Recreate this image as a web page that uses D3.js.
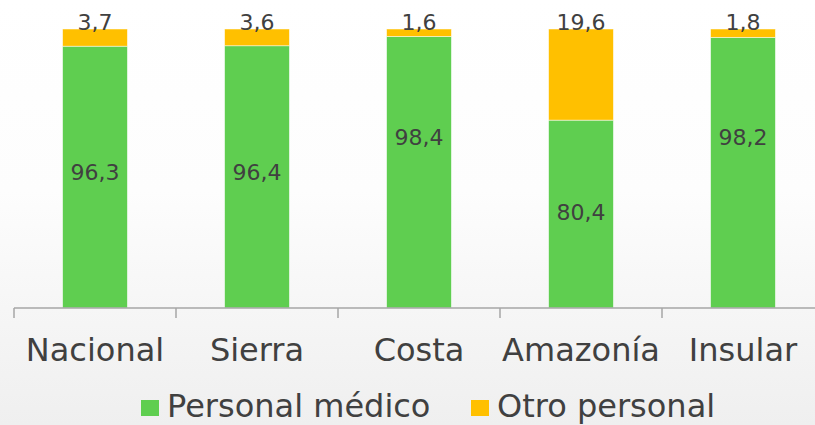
<!DOCTYPE html>
<head>
    <meta charset="utf-8" />
    <title>Personal por region</title>
    <script src="https://d3js.org/d3.v7.min.js"></script>
    <style>
        body { margin: 0; font-family: "DejaVu Sans", sans-serif; }
        svg { display: block; }
    </style>
</head>
<body>
<svg width="815" height="425"></svg>

<script>
    let categories = ["Nacional", "Sierra", "Costa", "Amazonía", "Insular"];
    let medico = [96.3, 96.4, 98.4, 80.4, 98.2];
    let otro = [3.7, 3.6, 1.6, 19.6, 1.8];
    let seriesNames = ["Personal médico", "Otro personal"];
    let seriesColors = ["#5fce50", "#ffc000"];
    // value axis of the original starts at 40, not 0
    let yMin = 40, yMax = 100;
    // where the inner label sits (in % units), hand placed like the original
    let innerLabelAt = [69.2, 69.2, 76.8, 60.6, 76.8];

    let svg = d3.select("svg");
    let width = 815, height = 425;

    // background fade
    let grad = svg.append("defs").append("linearGradient")
        .attr("id", "bg").attr("x1", 0).attr("y1", 0).attr("x2", 0).attr("y2", 1);
    grad.append("stop").attr("offset", "0%").attr("stop-color", "#ffffff");
    grad.append("stop").attr("offset", "45%").attr("stop-color", "#fdfdfd");
    grad.append("stop").attr("offset", "100%").attr("stop-color", "#efefef");
    svg.append("rect").attr("width", width).attr("height", height).attr("fill", "url(#bg)");

    let x = d3.scaleBand().domain(categories).range([14, 824]).paddingInner(0.6).paddingOuter(0.3);
    let xAxisScale = d3.scaleBand().domain(categories).range([14, 824]);
    let y = d3.scaleLinear().domain([yMin, yMax]).range([308, 29]).clamp(true);

    let rows = categories.map((c, i) => ({cat: c, medico: medico[i], otro: otro[i]}));
    let stack = d3.stack().keys(["medico", "otro"])(rows);

    svg.append("g").selectAll("g")
        .data(stack)
        .join("g")
        .attr("fill", (d, i) => seriesColors[i])
        .selectAll("rect")
        .data(d => d)
        .join("rect")
        .attr("x", d => x(d.data.cat))
        .attr("width", x.bandwidth())
        .attr("y", d => y(d[1]))
        .attr("height", d => y(d[0]) - y(d[1]))
        .attr("stroke", "#ffffff")
        .attr("stroke-opacity", 0.6)
        .attr("stroke-width", 0.8);

    // axis line and boundary ticks
    let axis = svg.append("g");
    axis.append("line")
        .attr("x1", 14).attr("x2", width)
        .attr("y1", y(yMin)).attr("y2", y(yMin))
        .attr("stroke", "#a6a6a6").attr("stroke-width", 1.5);
    axis.selectAll(".tk")
        .data(categories)
        .join("line")
        .attr("class", "tk")
        .attr("x1", d => xAxisScale(d)).attr("x2", d => xAxisScale(d))
        .attr("y1", y(yMin)).attr("y2", y(yMin) + 10)
        .attr("stroke", "#a6a6a6").attr("stroke-width", 1.5);
    axis.selectAll(".cat")
        .data(categories)
        .join("text")
        .attr("class", "cat")
        .attr("x", d => xAxisScale(d) + xAxisScale.bandwidth() / 2)
        .attr("y", 361)
        .attr("text-anchor", "middle")
        .attr("font-size", 32)
        .attr("fill", "#404040")
        .text(d => d);

    // value labels
    let fmt = v => String(v).replace(".", ",");
    svg.selectAll(".inner")
        .data(rows)
        .join("text")
        .attr("class", "inner")
        .attr("x", d => x(d.cat) + x.bandwidth() / 2)
        .attr("y", (d, i) => y(innerLabelAt[i]))
        .attr("dy", "0.35em")
        .attr("text-anchor", "middle")
        .attr("font-size", 22)
        .attr("fill", "#404040")
        .text(d => fmt(d.medico));
    svg.selectAll(".top")
        .data(rows)
        .join("text")
        .attr("class", "top")
        .attr("x", d => x(d.cat) + x.bandwidth() / 2)
        .attr("y", y(yMax) + 1)
        .attr("text-anchor", "middle")
        .attr("font-size", 22)
        .attr("fill", "#404040")
        .text(d => fmt(d.otro));

    // legend
    let legendX = [141, 471];
    let leg = svg.selectAll(".leg")
        .data(seriesNames)
        .join("g")
        .attr("class", "leg")
        .attr("transform", (d, i) => `translate(${legendX[i]},0)`);
    leg.append("rect")
        .attr("y", 400).attr("width", 18).attr("height", 16)
        .attr("fill", (d, i) => seriesColors[i]);
    leg.append("text")
        .attr("x", 26).attr("y", 417)
        .attr("font-size", 32)
        .attr("fill", "#404040")
        .text(d => d);
</script>
</body>
